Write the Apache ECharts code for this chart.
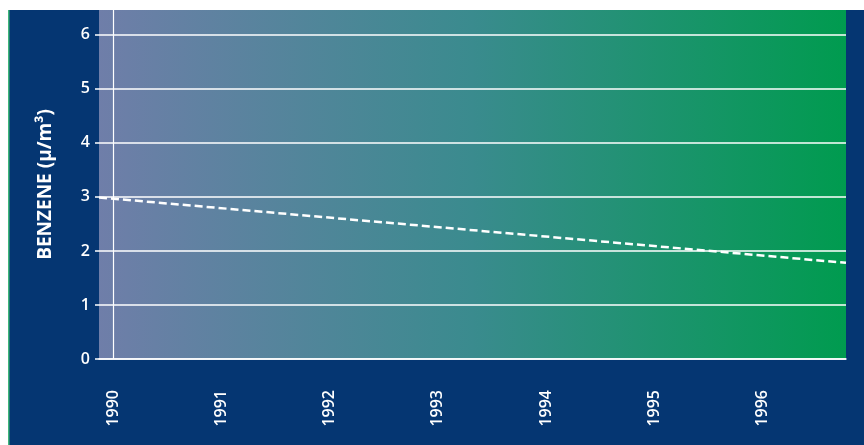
<!DOCTYPE html>
<html>
<head>
<meta charset="utf-8">
<script src="https://cdn.jsdelivr.net/npm/echarts@6/dist/echarts.min.js"></script>
<style>
html, body { margin: 0; padding: 0; background: #fff; }
#container { width: 864px; height: 445px; }
</style>
</head>
<body>
<div id="container"></div>
<script>
// 苯浓度
var years     = [1990, 1991, 1992, 1993, 1994, 1995, 1996];
var yTicks    = [0, 1, 2, 3, 4, 5, 6];
var lineYears = [1989.87, 1996.77];
var benzene   = [2.99, 1.78];

var data = [];
for (var i in lineYears) {
    data.push([lineYears[i], benzene[i]]);
}

var dom   = document.getElementById("container");
var chart = echarts.init(dom);

var font = 'Open Sans';

option = {
    backgroundColor: '#ffffff',
    animation: false,
    graphic: [
        { type: 'rect', shape: { x: 9, y: 10, width: 855, height: 435 }, style: { fill: '#053672' }, z: -10 },
        { type: 'rect', shape: { x: 8, y: 10, width: 1.5, height: 435 }, style: { fill: '#3fb77a' }, z: -10 }
    ],
    grid: {
        left: 99,
        right: 18,
        top: 10,
        bottom: 86,
        show: true,
        borderWidth: 0,
        backgroundColor: new echarts.graphic.LinearGradient(0, 0, 1, 0, [
            { offset: 0, color: '#6f7ea9' },
            { offset: 0.5, color: '#3a8b8e' },
            { offset: 1, color: '#009b4f' }
        ])
    },
    xAxis: {
        type: 'value',
        min: 1989.87,
        max: 1996.77,
        axisLine: { show: true, lineStyle: { color: '#ffffff', width: 1.5 } },
        axisTick: { show: false },
        splitLine: { show: false },
        axisLabel: {
            customValues: years,
            formatter: function (v) { return String(v); },
            rotate: 90,
            margin: 31,
            color: '#ffffff',
            fontFamily: font,
            fontWeight: 600,
            fontSize: 16
        }
    },
    yAxis: {
        type: 'value',
        min: 0,
        max: 6.46,
        name: 'BENZENE (μ/m³)',
        nameLocation: 'middle',
        nameRotate: 90,
        nameGap: 44,
        nameTextStyle: {
            color: '#ffffff',
            fontFamily: font,
            fontWeight: 'bold',
            fontSize: 19
        },
        axisLine: { show: false },
        axisTick: {
            show: true,
            customValues: yTicks,
            length: 4,
            lineStyle: { color: '#ffffff', width: 1.5 }
        },
        splitLine: {
            show: true,
            lineStyle: { color: '#ffffff', width: 1.5 }
        },
        axisLabel: {
            customValues: yTicks,
            margin: 9,
            color: '#ffffff',
            fontFamily: font,
            fontWeight: 600,
            fontSize: 16
        }
    },
    series: [
        {
            type: 'line',
            data: data,
            symbol: 'none',
            lineStyle: { color: '#ffffff', width: 2.5, type: [8, 4] },
            markLine: {
                silent: true,
                symbol: 'none',
                label: { show: false },
                lineStyle: { color: '#ffffff', width: 1.2, type: 'solid' },
                data: [{ xAxis: 1990 }]
            }
        }
    ]
};

chart.setOption(option, true);
</script>
</body>
</html>
